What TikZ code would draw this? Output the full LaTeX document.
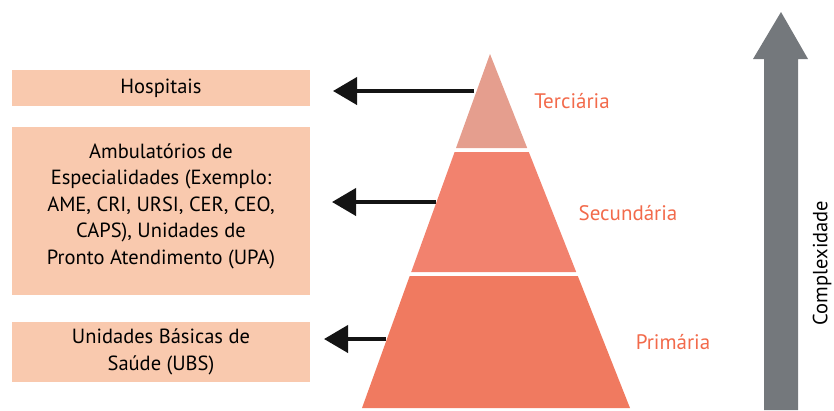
\documentclass[tikz,border=0pt]{standalone}
\usepackage{fontspec}
\setmainfont{PT Sans}
\usetikzlibrary{arrows.meta}
\definecolor{boxfill}{HTML}{F9C9AE}
\definecolor{topfill}{HTML}{E59E8E}
\definecolor{midfill}{HTML}{F2826E}
\definecolor{botfill}{HTML}{F07A60}
\definecolor{lvl}{HTML}{F26A4B}
\definecolor{grayarrow}{HTML}{74787C}
\definecolor{darkarrow}{HTML}{141414}
\tikzset{
  infobox/.style={fill=boxfill, minimum width=298pt, inner sep=0pt, align=center,
    font=\fontsize{20.5}{26.5}\selectfont, text=black},
  lvllabel/.style={text=lvl, font=\fontsize{21}{25}\selectfont, inner sep=0pt},
  pointer/.style={draw=darkarrow, line width=4pt, -{Triangle[length=24pt,width=27pt]}},
}
\begin{document}
\begin{tikzpicture}[x=1pt,y=-1pt]
\useasboundingbox (0,0) rectangle (834,410);
% boxes
\node[infobox, minimum height=36pt] (hosp) at (161,88) {Hospitais};
\node[infobox, minimum height=168pt, text depth=14pt] (amb) at (161,211) {Ambulatórios de\\Especialidades (Exemplo:\\AME, CRI, URSI, CER, CEO,\\CAPS), Unidades de\\Pronto Atendimento (UPA)};
\node[infobox, minimum height=60pt] (ubs) at (161,352) {Unidades Básicas de\\Saúde (UBS)};
% pyramid
\fill[topfill] (490,54) -- (527.2,148) -- (456,148) -- cycle;
\fill[midfill] (454.6,152) -- (528.8,152) -- (576.2,272) -- (411.2,272) -- cycle;
\fill[botfill] (409.7,276) -- (577.8,276) -- (630,408) -- (362,408) -- cycle;
\coordinate (tedge) at (474,91);
\coordinate (sedge) at (436,202);
\coordinate (pedge) at (386,339);
\coordinate (ttip) at (333,91);
\coordinate (stip) at (332,202);
\coordinate (ptip) at (324,339);
\node[lvllabel] (ter) at (572,101) {Terciária};
\node[lvllabel] (sec) at (628,213) {Secundária};
\node[lvllabel] (pri) at (673,342) {Primária};
% arrows
\draw[pointer] (tedge) -- (ttip);
\draw[pointer] (sedge) -- (stip);
\draw[pointer] (pedge) -- (ptip);
% complexity arrow
\fill[grayarrow] (764,410) -- (764,59) -- (753,59) -- (781,12) -- (808,59) -- (798,59) -- (798,410) -- cycle;
\node[rotate=90, font=\fontsize{20.5}{24}\selectfont, inner sep=0pt] (cx) at (822,263) {Complexidade};
\end{tikzpicture}
\end{document}
